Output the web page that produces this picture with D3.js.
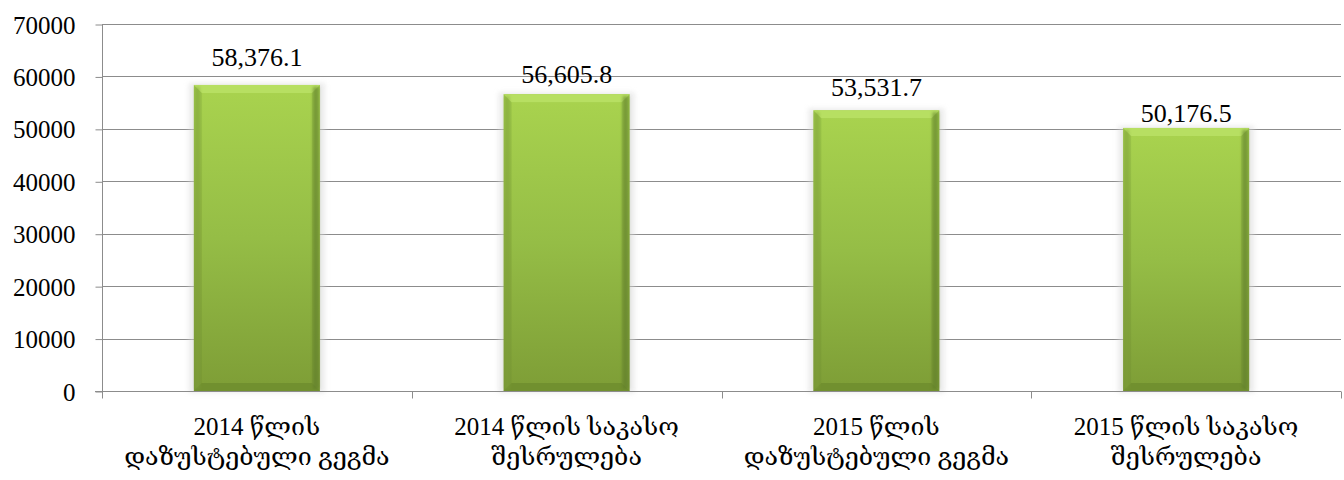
<!DOCTYPE html>
<html>
<head>
<meta charset="utf-8">
<script src="https://cdnjs.cloudflare.com/ajax/libs/d3/7.8.5/d3.min.js"></script>
<style>
  html, body { margin: 0; padding: 0; background: #ffffff; }
  svg { display: block; }
</style>
</head>
<body>
<svg id="chart" width="1344" height="480"></svg>
<script>
// Budget figures (thousand GEL)
const categories = [
  ["2014 წლის", "დაზუსტებული გეგმა"],
  ["2014 წლის საკასო", "შესრულება"],
  ["2015 წლის", "დაზუსტებული გეგმა"],
  ["2015 წლის საკასო", "შესრულება"]
];
const values = [58376.1, 56605.8, 53531.7, 50176.5];
const valueLabels = ["58,376.1", "56,605.8", "53,531.7", "50,176.5"];
const yTicks = [0, 10000, 20000, 30000, 40000, 50000, 60000, 70000];

// label lift above each bar top (px)
const labelLift = [19, 11, 14, 6];

const FONT = '"Liberation Serif", "Times New Roman", Tinos, "DejaVu Serif", serif';

const svg = d3.select("#chart");
const margin = { left: 102, right: 3, top: 24, bottom: 89 };
const W = 1344, H = 480;
const plotW = W - margin.left - margin.right;
const plotH = H - margin.top - margin.bottom;

const x = d3.scaleBand()
  .domain(d3.range(categories.length))
  .range([margin.left, margin.left + plotW])
  .paddingInner(0.593)
  .paddingOuter(0.2965);

const y = d3.scaleLinear().domain([0, 70000]).range([margin.top + plotH, margin.top]);

const defs = svg.append("defs");
const body = defs.append("linearGradient").attr("id", "barBody")
  .attr("x1", 0).attr("y1", 0).attr("x2", 0).attr("y2", 1);
body.append("stop").attr("offset", "0%").attr("stop-color", "#a8d24e");
body.append("stop").attr("offset", "50%").attr("stop-color", "#95bd46");
body.append("stop").attr("offset", "100%").attr("stop-color", "#7f9f37");
const side = defs.append("linearGradient").attr("id", "barSide")
  .attr("x1", 0).attr("y1", 0).attr("x2", 0).attr("y2", 1);
side.append("stop").attr("offset", "0%").attr("stop-color", "#9cc649");
side.append("stop").attr("offset", "100%").attr("stop-color", "#789734");
const blur = defs.append("filter").attr("id", "soft").attr("x", "-20%").attr("y", "-20%").attr("width", "140%").attr("height", "140%");
blur.append("feGaussianBlur").attr("stdDeviation", 2.5);
const edgeBlur = defs.append("filter").attr("id", "edge").attr("x", "-50%").attr("y", "-5%").attr("width", "200%").attr("height", "110%");
edgeBlur.append("feGaussianBlur").attr("stdDeviation", 1.5);

// gridlines
const grid = svg.append("g");
grid.selectAll("line").data(yTicks.filter(d => d > 0)).join("line")
  .attr("x1", margin.left).attr("x2", margin.left + plotW)
  .attr("y1", d => Math.round(y(d)) + 0.5).attr("y2", d => Math.round(y(d)) + 0.5)
  .attr("stroke", "#8c8c8c").attr("stroke-width", 1);

// y axis
const yAxis = d3.axisLeft(y).tickValues(yTicks).tickSize(7).tickPadding(20).tickFormat(d3.format("d"));
const ya = svg.append("g").attr("transform", `translate(${margin.left + 0.5},0.5)`).call(yAxis)
  .attr("font-family", FONT).attr("font-size", 25);
ya.select(".domain").attr("stroke", "#8c8c8c").attr("d", `M0,${y(70000)}V${y(0)}`);
ya.selectAll(".tick line").attr("stroke", "#8c8c8c");
ya.selectAll(".tick text").attr("fill", "#000").attr("dy", "0.34em");

// bars
const bw = x.bandwidth();
const bev = 8;
const bars = svg.append("g").selectAll("g").data(values).join("g")
  .attr("transform", (d, i) => `translate(${x(i)},${y(d)})`);

bars.append("rect")
  .attr("x", -5).attr("y", -2)
  .attr("width", bw + 10).attr("height", d => y(0) - y(d) + 4)
  .attr("fill", "#d8d8d8").attr("opacity", 0.5).attr("filter", "url(#soft)");

bars.append("rect")
  .attr("width", bw).attr("height", d => y(0) - y(d))
  .attr("fill", "url(#barSide)");

bars.append("rect")
  .attr("x", bev).attr("y", bev)
  .attr("width", bw - 2 * bev).attr("height", d => Math.max(0, y(0) - y(d) - 2 * bev))
  .attr("fill", "url(#barBody)");

// top bevel
bars.append("path")
  .attr("d", `M0,0H${bw}L${bw - bev},${bev}H${bev}Z`)
  .attr("fill", "#b7df62");
// bottom bevel
bars.append("path")
  .attr("d", d => { const h = y(0) - y(d); return `M0,${h}H${bw}L${bw - bev},${h - bev}H${bev}Z`; })
  .attr("fill", "#6f8e2e").attr("opacity", 0.8);
// right edge shading
bars.append("rect")
  .attr("x", bw - 7).attr("y", 2)
  .attr("width", 6).attr("height", d => Math.max(0, y(0) - y(d) - 4))
  .attr("fill", "#5d7a2a").attr("opacity", 0.55).attr("filter", "url(#edge)");
// left edge shading
bars.append("rect")
  .attr("x", 1).attr("y", 2)
  .attr("width", 5).attr("height", d => Math.max(0, y(0) - y(d) - 4))
  .attr("fill", "#7f9f3a").attr("opacity", 0.45).attr("filter", "url(#edge)");

// value labels
svg.append("g").selectAll("text").data(values).join("text")
  .attr("x", (d, i) => x(i) + bw / 2)
  .attr("y", (d, i) => y(d) - labelLift[i])
  .attr("text-anchor", "middle")
  .attr("font-family", FONT)
  .attr("font-size", 26)
  .attr("fill", "#000")
  .text((d, i) => valueLabels[i]);

// x axis
const base = Math.round(y(0)) + 0.5;
svg.append("line")
  .attr("x1", margin.left - 7).attr("x2", margin.left + plotW)
  .attr("y1", base).attr("y2", base)
  .attr("stroke", "#8c8c8c");
const step = plotW / categories.length;
svg.append("g").selectAll("line").data(d3.range(categories.length + 1)).join("line")
  .attr("x1", i => Math.round(margin.left + i * step) + 0.5)
  .attr("x2", i => Math.round(margin.left + i * step) + 0.5)
  .attr("y1", base).attr("y2", base + 7)
  .attr("stroke", "#8c8c8c");

const xl = svg.append("g").selectAll("text").data(categories).join("text")
  .attr("x", (d, i) => x(i) + bw / 2)
  .attr("y", 435)
  .attr("text-anchor", "middle")
  .attr("font-family", FONT)
  .attr("font-size", 25)
  .attr("fill", "#000");
xl.selectAll("tspan").data(d => d).join("tspan")
  .attr("x", function () { return d3.select(this.parentNode).attr("x"); })
  .attr("dy", (d, j) => j === 0 ? 0 : 30)
  .text(d => d);
</script>
</body>
</html>
